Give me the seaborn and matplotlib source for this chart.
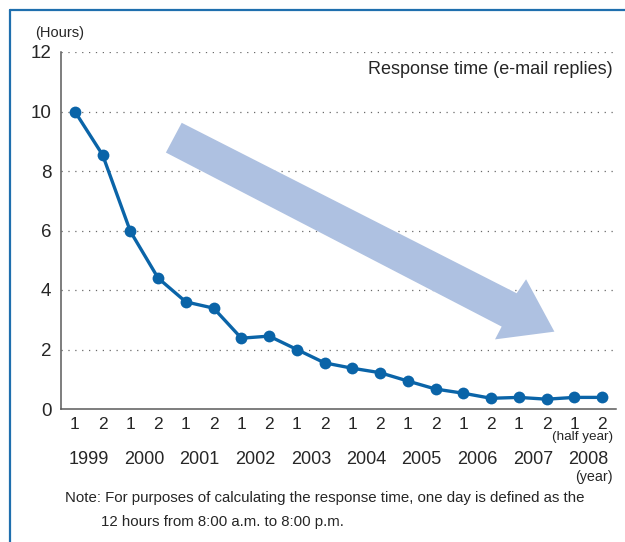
import numpy as np
import pandas as pd
import matplotlib
matplotlib.use("Agg")
import matplotlib.pyplot as plt
from matplotlib.patches import Polygon
from matplotlib.lines import Line2D
import matplotlib.transforms as mtransforms
import seaborn as sns

# ---- data ----
years = ["1999", "2000", "2001", "2002", "2003", "2004", "2005", "2006", "2007", "2008"]
halves = ["1", "2"] * len(years)
response_hours = [10.0, 8.54, 5.97, 4.40, 3.60, 3.39, 2.38, 2.45, 2.00, 1.55,
                  1.37, 1.22, 0.94, 0.67, 0.53, 0.36, 0.39, 0.33, 0.39, 0.39]
y_ticks = [0, 2, 4, 6, 8, 10, 12]

sns.set_style("white")
plt.rcParams["font.family"] = ["Liberation Sans", "DejaVu Sans"]

text_col = "#262626"
line_col = "#0a64a8"
arrow_col = "#aec1e1"
axis_col = "#5a5a5a"

df = pd.DataFrame({"idx": np.arange(len(response_hours)), "hours": response_hours})

fig = plt.figure(figsize=(6.25, 5.42), dpi=100)
ax = fig.add_axes([61 / 625, 1 - 409 / 542, 555 / 625, 357 / 542])

# arrow (decoration) in data coordinates
arrow_pts = [(3.85, 9.62), (15.92, 3.89), (16.26, 4.36), (17.28, 2.60),
             (15.14, 2.34), (15.38, 2.77), (3.28, 8.62)]
ax.add_patch(Polygon(arrow_pts, closed=True, facecolor=arrow_col,
                     edgecolor="none", zorder=1))

# grid lines
for yv in y_ticks[1:]:
    ax.axhline(yv, xmin=0, xmax=(613 - 61) / 555, color="#6a6a6a", lw=0.9,
               linestyle=(0, (1.0, 4.5)), zorder=0.5)

sns.lineplot(data=df, x="idx", y="hours", ax=ax, color=line_col, lw=2.4,
             marker="o", markersize=8.5, markeredgewidth=0, zorder=3)

ax.set_xlim(-0.5, len(response_hours) - 0.5)
ax.set_ylim(0, 12)
ax.set_xlabel("")
ax.set_ylabel("")

ax.set_yticks(y_ticks)
ax.set_yticklabels([str(v) for v in y_ticks], fontsize=13.5, color=text_col)
ax.set_xticks(np.arange(len(response_hours)))
ax.set_xticklabels(halves, fontsize=12.5, color=text_col)
ax.set_xticks(np.arange(len(response_hours) + 1)[1:] - 0.5, minor=True)
ax.tick_params(axis="x", which="major", length=0, pad=6)
ax.tick_params(axis="x", which="minor", direction="in", length=4,
               width=1, color=axis_col)
ax.tick_params(axis="y", length=0, pad=7)

for s in ["top", "right"]:
    ax.spines[s].set_visible(False)
for s in ["left", "bottom"]:
    ax.spines[s].set_color(axis_col)
    ax.spines[s].set_linewidth(1.1)

trans = mtransforms.blended_transform_factory(ax.transData, fig.transFigure)
for i, yr in enumerate(years):
    ax.text(2 * i + 0.5, 1 - 459 / 542, yr, transform=trans, ha="center",
            va="center", fontsize=13, color=text_col)

fig.text(613 / 625, 1 - 437 / 542, "(half year)", ha="right", va="center",
         fontsize=9.7, color=text_col)
fig.text(613 / 625, 1 - 477 / 542, "(year)", ha="right", va="center",
         fontsize=10.3, color=text_col)
fig.text(35 / 625, 1 - 33 / 542, "(Hours)", ha="left", va="center",
         fontsize=10.5, color=text_col)
fig.text(613 / 625, 1 - 70 / 542, "Response time (e-mail replies)", ha="right",
         va="center", fontsize=13, color=text_col)
fig.text(65 / 625, 1 - 498 / 542,
         "Note: For purposes of calculating the response time, one day is defined as the",
         ha="left", va="center", fontsize=10.8, color=text_col)
fig.text(101 / 625, 1 - 522 / 542, "12 hours from 8:00 a.m. to 8:00 p.m.",
         ha="left", va="center", fontsize=10.8, color=text_col)

# frame border
fig.add_artist(Line2D([10 / 625, 1.0], [1 - 9.5 / 542, 1 - 9.5 / 542],
                      transform=fig.transFigure, color="#1f6fae", lw=1.6))
fig.add_artist(Line2D([10 / 625, 10 / 625], [0, 1 - 9.5 / 542],
                      transform=fig.transFigure, color="#1f6fae", lw=1.6))

fig.savefig("out.png", dpi=100)
